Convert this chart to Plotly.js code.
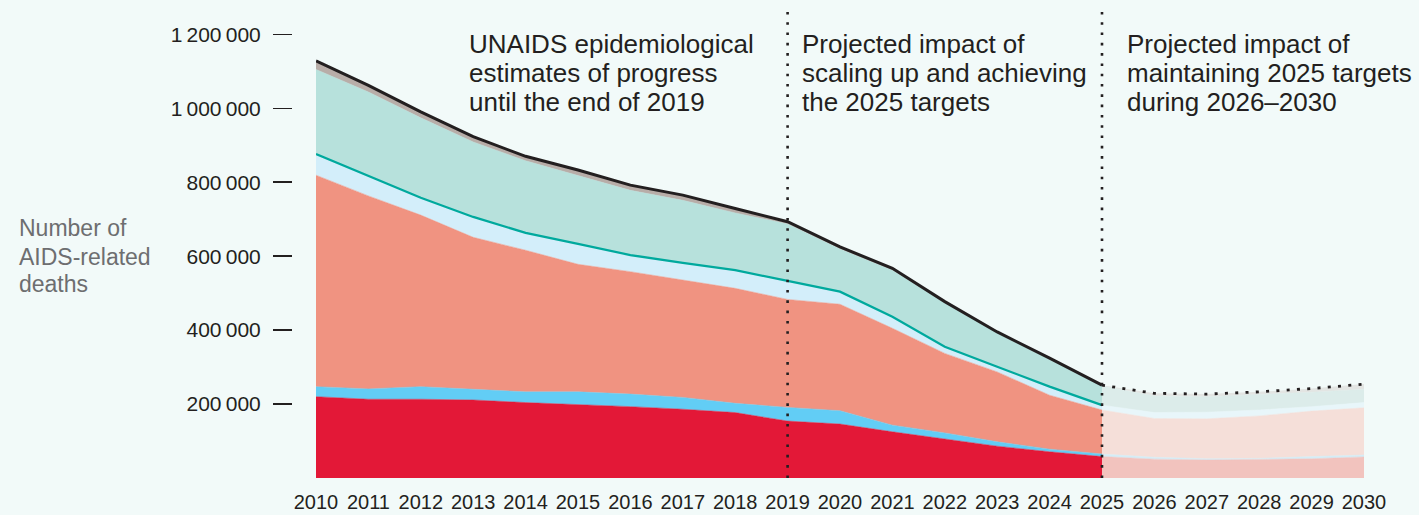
<!DOCTYPE html>
<html>
<head>
<meta charset="utf-8">
<script src="https://cdn.plot.ly/plotly-3.0.1.min.js"></script>
<style>
  html, body { margin: 0; padding: 0; background: #F2FAF9; }
  #chart { width: 1419px; height: 515px; }
</style>
</head>
<body>
<div id="chart"></div>
<script>
// ---------- data ----------
const yearsActual = [2010, 2011, 2012, 2013, 2014, 2015, 2016, 2017, 2018, 2019, 2020, 2021, 2022, 2023, 2024, 2025];
const yearsProjected = [2025, 2026, 2027, 2028, 2029, 2030];

// stacked components, actual / scale-up period (bottom to top)
const seriesRed        = [220000, 213000, 213000, 211000, 204000, 199000, 193000, 186000, 177000, 154000, 146000, 125000, 105000, 86000, 71000, 58000];
const seriesBlue       = [27000, 28000, 34000, 30000, 29000, 34000, 34000, 32000, 25000, 37000, 36000, 18000, 17000, 12000, 7000, 7000];
const seriesSalmon     = [572000, 522000, 464000, 410000, 383000, 345000, 331000, 317000, 311000, 292000, 288000, 262000, 215000, 189000, 146000, 119000];
const seriesLightBlue  = [57000, 53000, 47000, 55000, 47000, 55000, 45000, 47000, 49000, 50000, 34000, 31000, 18000, 14000, 23000, 13000];
const seriesTeal       = [229000, 228000, 216000, 203000, 195000, 186000, 175000, 169000, 155000, 154000, 115000, 126000, 118000, 91000, 73000, 52000];
const seriesTaupe      = [23000, 18000, 16000, 14000, 12000, 14000, 14000, 14000, 12000, 6000, 6000, 5000, 4000, 3000, 4000, 2000];

// stacked components, projection 2025-2030 (bottom to top)
const projRed       = [58000, 51000, 49000, 50000, 52000, 57000];
const projBlue      = [7000, 5000, 3000, 3000, 6000, 5000];
const projSalmon    = [119000, 105000, 108000, 115000, 123000, 128000];
const projLightBlue = [13000, 16000, 18000, 16000, 12000, 14000];
const projTeal      = [52000, 45000, 42000, 41000, 39000, 36000];
const projTaupe     = [2000, 7000, 7000, 8000, 10000, 14000];

// tick labels
const yTickVals = [200000, 400000, 600000, 800000, 1000000, 1200000];
const yTickText = ["200\u2009000", "400\u2009000", "600\u2009000", "800\u2009000", "1\u2009000\u2009000", "1\u2009200\u2009000"];
const xTickVals = [2010, 2011, 2012, 2013, 2014, 2015, 2016, 2017, 2018, 2019, 2020, 2021, 2022, 2023, 2024, 2025, 2026, 2027, 2028, 2029, 2030];
const xTickText = ["2010", "2011", "2012", "2013", "2014", "2015", "2016", "2017", "2018", "2019", "2020", "2021", "2022", "2023", "2024", "2025", "2026", "2027", "2028", "2029", "2030"];

// texts
const yTitleLines = ["Number of", "AIDS-related", "deaths"];
const noteA = ["UNAIDS epidemiological", "estimates of progress", "until the end of 2019"];
const noteB = ["Projected impact of", "scaling up and achieving", "the 2025 targets"];
const noteC = ["Projected impact of", "maintaining 2025 targets", "during 2026–2030"];
const periodBreaks = [2019, 2025];

// ---------- styles ----------
const W = 1419, H = 515;
const BG = '#F2FAF9';
const INK = '#231F20';
const actualStyles = [
  {fill: '#E31837', line: '#E31837', w: 0.5},
  {fill: '#62CDF5', line: '#62CDF5', w: 0.5},
  {fill: '#F09381', line: '#F09381', w: 0.5},
  {fill: '#D3EEFA', line: '#00A99D', w: 2.3},
  {fill: '#B7E1DC', line: '#B7E1DC', w: 0.5},
  {fill: '#B8ADA8', line: INK, w: 3}
];
const projStyles = [
  {fill: '#F2C3BE', line: '#F2C3BE', w: 0.5},
  {fill: '#D4EDF7', line: '#D4EDF7', w: 0.5},
  {fill: '#F5DFD9', line: '#F5DFD9', w: 0.5},
  {fill: '#E8F6FA', line: '#E8F6FA', w: 0.5},
  {fill: '#DCECEA', line: '#DCECEA', w: 0.5},
  {fill: '#E3E5E3', line: INK, w: 2.8, dash: '3px,7.3px'}
];

const actualSeries = [seriesRed, seriesBlue, seriesSalmon, seriesLightBlue, seriesTeal, seriesTaupe];
const projSeries = [projRed, projBlue, projSalmon, projLightBlue, projTeal, projTaupe];

const traces = [];
actualSeries.forEach((s, i) => {
  const st = actualStyles[i];
  traces.push({
    type: 'scatter', mode: 'lines', x: yearsActual, y: s,
    stackgroup: 'actual', fillcolor: st.fill,
    line: {color: st.line, width: st.w, shape: 'linear'},
    hoverinfo: 'skip', showlegend: false
  });
});
projSeries.forEach((s, i) => {
  const st = projStyles[i];
  traces.push({
    type: 'scatter', mode: 'lines', x: yearsProjected, y: s,
    stackgroup: 'proj', fillcolor: st.fill,
    line: {color: st.line, width: st.w, dash: st.dash || 'solid'},
    hoverinfo: 'skip', showlegend: false
  });
});

const px = v => v / W;
const py = v => (H - v) / H;

const annotations = [];
function addLines(lines, left, centers, size, color) {
  lines.forEach((t, i) => {
    annotations.push({
      text: t, xref: 'paper', yref: 'paper', x: px(left), y: py(centers[i]),
      xanchor: 'left', yanchor: 'middle', showarrow: false,
      font: {family: 'Liberation Sans, Arial, sans-serif', size: size, color: color}
    });
  });
}
addLines(noteA, 467, [43.5, 72.8, 101.8], 26, INK);
addLines(noteB, 800, [43.5, 72.8, 101.8], 26, INK);
addLines(noteC, 1125, [43.5, 72.8, 101.8], 26, INK);
addLines(yTitleLines, 17, [228, 257, 283.7], 23, '#6D6E70');

const shapes = periodBreaks.map(yr => ({
  type: 'line', xref: 'x', yref: 'paper', x0: yr, x1: yr,
  y0: py(478), y1: py(12), layer: 'above',
  line: {color: INK, width: 2.6, dash: '2.6px,7.7px'}
}));

const layout = {
  width: W, height: H,
  margin: {l: 0, r: 0, t: 0, b: 0, pad: 0},
  paper_bgcolor: BG, plot_bgcolor: BG,
  showlegend: false,
  xaxis: {
    domain: [px(316), px(1364)], range: [2010, 2030],
    showgrid: false, zeroline: false, showline: false, ticks: '',
    tickvals: xTickVals, ticktext: xTickText,
    tickfont: {family: 'Liberation Sans, Arial, sans-serif', size: 20, color: INK},
    ticklabelstandoff: 10, fixedrange: true
  },
  yaxis: {
    domain: [py(478), py(34.3)], range: [0, 1200000],
    anchor: 'free', position: px(292),
    showgrid: false, zeroline: false, showline: false,
    ticks: 'outside', ticklen: 19, tickwidth: 1.5, tickcolor: INK,
    tickvals: yTickVals, ticktext: yTickText,
    tickfont: {family: 'Liberation Sans, Arial, sans-serif', size: 21, color: INK},
    ticklabelstandoff: 8, fixedrange: true
  },
  annotations: annotations,
  shapes: shapes
};

Plotly.newPlot('chart', traces, layout, {staticPlot: true, displayModeBar: false});
</script>
</body>
</html>
